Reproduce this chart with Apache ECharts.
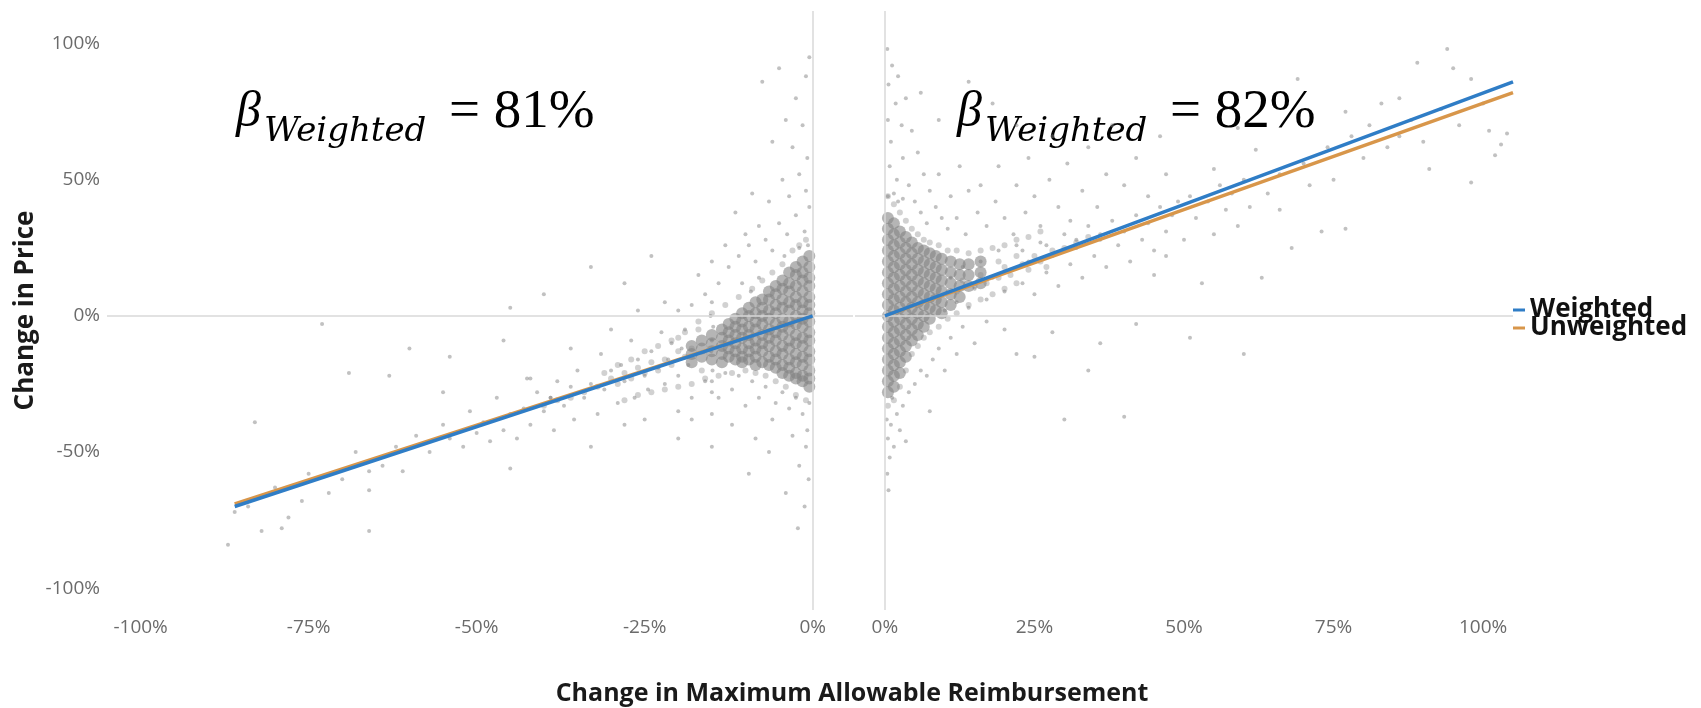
<!DOCTYPE html>
<html>
<head>
<meta charset="utf-8">
<title>Change in Price vs Change in Maximum Allowable Reimbursement</title>
<script src="https://cdn.jsdelivr.net/npm/echarts@6/dist/echarts.min.js"></script>
<style>
    html, body { margin: 0; padding: 0; background: #fff; }
    #chart { width: 1701px; height: 708px; }
</style>
</head>
<body>
<div id="chart"></div>
<script>
'use strict';
// tick labels
var yTicks = [-100, -50, 0, 50, 100];
var xTicksLeft = [-100, -75, -50, -25, 0];
var xTicksRight = [0, 25, 50, 75, 100];

// fitted lines (x in %, y in %)
var leftFitX = [-86, 0];
var leftWeighted = [-70, 0];
var leftUnweighted = [-69, 0];
var rightFitX = [0, 105];
var rightWeighted = [0, 86];
var rightUnweighted = [0, 82];

// dense cloud next to 0%, read column by column
var leftCoreX = [-0.5, -1.5, -2.5, -3.5, -4.5, -5.5, -6.5, -7.5, -8.5, -9.5, -10.5, -11.5, -12.5, -13.5, -15, -16.5, -18];
var leftCoreY = [
    [22, 18, 14, 11, 7, 4, 1, -2, -6, -9, -13, -16, -20, -23, -26],
    [20, 16, 13, 9, 5, 2, -1, -4, -8, -11, -15, -18, -22, -24],
    [18, 15, 11, 7, 4, 0, -3, -7, -10, -14, -17, -21, -23],
    [16, 12, 9, 5, 2, -2, -5, -9, -12, -16, -19, -22],
    [13, 10, 6, 3, -1, -4, -7, -11, -14, -18, -21],
    [11, 8, 4, 1, -3, -6, -9, -13, -16, -19],
    [9, 6, 2, -1, -5, -8, -11, -15, -18],
    [6, 3, 0, -3, -7, -10, -13, -17],
    [5, 1, -2, -5, -9, -12, -15, -18],
    [3, 0, -4, -7, -10, -13, -16],
    [1, -2, -5, -8, -12, -15, -17],
    [-1, -4, -7, -10, -13, -16],
    [-3, -6, -9, -12, -15],
    [-5, -8, -11, -14, -17],
    [-7, -10, -13, -16],
    [-9, -12, -15],
    [-11, -14, -17]
];
var rightCoreX = [0.5, 1.5, 2.5, 3.5, 4.5, 5.5, 6.5, 7.5, 8.5, 9.5, 11, 12.5, 14, 16];
var rightCoreY = [
    [36, 32, 28, 24, 20, 16, 12, 8, 4, 0, -4, -8, -12, -16, -20, -24, -28],
    [34, 30, 26, 22, 18, 14, 10, 6, 2, -2, -6, -10, -14, -18, -22, -26],
    [31, 27, 23, 19, 15, 11, 7, 3, -1, -5, -9, -13, -17, -21],
    [29, 25, 21, 17, 13, 9, 5, 1, -3, -7, -11, -15],
    [27, 23, 19, 15, 11, 7, 3, -1, -5, -9],
    [25, 21, 17, 13, 9, 5, 1, -3, -7],
    [24, 20, 16, 12, 8, 4, 0, -4],
    [23, 19, 15, 11, 7, 3, -1],
    [22, 18, 14, 10, 6, 2],
    [21, 17, 13, 9, 5, 1],
    [20, 16, 12, 8, 4],
    [19, 15, 11, 7],
    [19, 15, 11],
    [20, 16, 12]
];

// medium-density halo around the cores and along the fit
var leftHalo = [
    [-1, 28], [-2, 26], [-3, 24], [-4.5, 19], [-6, 16], [-7.5, 13], [-9, 10], [-11, 7], [-13, 4], [-15, 1],
    [-17, -2], [-19, -6], [-21, -9], [-23, -11], [-25, -13], [-27, -16], [-29, -18], [-31, -21],
    [-1, -31], [-2.5, -29], [-4, -26], [-5.5, -24], [-7, -22], [-8.5, -21], [-10, -20], [-12, -21], [-14, -22],
    [-16, -23], [-18, -25], [-20, -26], [-22, -27], [-24, -28], [-26, -29], [-28, -31],
    [-19, -15], [-20, -13], [-21, -18], [-22, -16], [-23, -20], [-24, -17], [-25, -21], [-26, -19], [-27, -23],
    [-28, -21], [-29, -25], [-30, -23], [-32, -26], [-34, -28], [-36, -30], [-38, -31], [-40, -33], [-20, -8],
    [-17, -5], [-18, -12], [-16.5, -20]
];
var rightHalo = [
    [0.5, 44], [1.5, 41], [2.5, 38], [3.5, 35], [4.5, 32], [5.5, 30], [6.5, 28], [7.5, 27], [9, 26], [10.5, 24],
    [12, 24], [14, 23], [16, 24], [18, 25], [20, 26], [22, 28], [24, 29], [26, 31],
    [0.5, -33], [1.5, -31], [2.5, -26], [3.5, -20], [4.5, -14], [5.5, -11], [6.5, -8], [7.5, -6], [9, -4],
    [10.5, -1], [12, 1], [14, 4], [16, 6], [18, 8], [20, 10], [22, 12],
    [12, 9], [13, 13], [15, 11], [16, 15], [17, 12], [19, 14], [20, 18], [21, 15], [23, 19], [24, 17], [25, 22],
    [26, 20], [28, 24], [30, 25], [32, 27], [34, 29], [19, 20], [22, 22], [27, 18]
];

// scattered observations
var leftPoints = [
    [-0.5, 95], [-1, 88], [-2.5, 80], [-4, 72], [-1.5, 70], [-6, 64], [-3, 62], [-0.8, 58], [-7.5, 86], [-5, 91],
    [-2, 52], [-4.5, 50], [-1, 46], [-3.5, 44], [-6.5, 42], [-0.5, 40], [-2.5, 37], [-5, 34], [-8, 33], [-1.2, 31],
    [-3.8, 30], [-7, 28], [-9.5, 26], [-11, 22], [-6, 24], [-10, 30], [-12.5, 18], [-8.5, 20], [-14, 12], [-13, 26],
    [-16, 8], [-18, 4], [-17, 15], [-20, 2], [-11.5, 38], [-9, 45], [-15, 20], [-0.7, 26], [-2, 25], [-4.2, 22],
    [-10.5, 12], [-8, 14], [-9.2, 9],
    [-0.5, -32], [-1.5, -36], [-0.8, -42], [-2.5, -30], [-3.5, -34], [-1, -48], [-2, -55], [-0.6, -60], [-4.5, -28],
    [-5.5, -32], [-6, -38], [-7, -26], [-8, -30], [-9, -24], [-10, -33], [-11, -22], [-12, -27], [-13, -21], [-14, -30],
    [-15, -36], [-16, -24], [-3, -44], [-6.5, -50], [-9.5, -58], [-12, -40], [-4, -65], [-1.2, -70], [-8.5, -45],
    [-15, -48], [-18, -38], [-20, -45], [-2.2, -78],
    [-15, 5], [-15.2, 0], [-14.8, -4], [-15, -9], [-15.1, -13], [-14.9, -20], [-15, -24], [-15, -28],
    [-19, -5], [-19.5, -12], [-18.5, -18], [-20, -22], [-21, -10], [-21.5, -16], [-22, -25], [-22.5, -6], [-23, -19],
    [-24, -13], [-24.5, -27], [-25, -22], [-26, -16], [-26.5, -30], [-27, -9], [-28, -24], [-28.5, -18], [-29, -32],
    [-30, -20], [-31, -27], [-31.5, -14], [-32, -36], [-33, -25], [-34, -30], [-35, -20], [-35.5, -38], [-36, -26],
    [-37, -33], [-38, -24], [-38.5, -42], [-39, -30], [-40, -35], [-41, -28], [-42, -40], [-42.5, -23], [-43, -34],
    [-44, -45], [-45, -36], [-46, -42], [-47, -30], [-48, -46], [-49, -39], [-50, -43], [-51, -35], [-52, -48],
    [-54, -45], [-54, -15], [-55, -40], [-46, -9], [-57, -50], [-59, -44], [-61, -57], [-62, -48], [-63, -22],
    [-64, -55], [-66, -57], [-66, -64], [-68, -50], [-69, -21], [-70, -60], [-72, -65], [-73, -3], [-75, -58],
    [-76, -68], [-78, -74], [-79, -78], [-80, -63], [-82, -79], [-83, -39], [-84, -70], [-86, -72], [-87, -84],
    [-66, -79], [-45, -56], [-39, -30], [-42, -23], [-33, -48], [-28, -40], [-36, -12], [-25, -38], [-30, -5],
    [-22, 5], [-26, 2], [-18, -30], [-20, -35], [-33, 18], [-40, 8], [-28, 12], [-45, 3], [-24, 22], [-60, -12], [-55, -28]
];
var rightPoints = [
    [0.4, 98], [1.2, 92], [0.6, 85], [2.2, 88], [1.8, 78], [3.5, 80], [0.5, 72], [2.8, 70], [4.5, 68], [1, 64],
    [5.5, 60], [3, 58], [0.8, 55], [2, 50], [6.5, 52], [4, 48], [1.5, 45], [7.5, 46], [5, 42], [3, 43], [8.5, 40],
    [0.5, 44], [6, 38], [9.5, 36], [2.2, 42], [7, 34], [10.5, 32], [12, 36], [11, 44], [13.5, 30], [9, 52], [14, 46],
    [15.5, 38], [12.5, 55], [17, 33], [16, 48], [18.5, 42], [20, 36], [19, 55], [21.5, 30], [22, 48], [23.5, 38],
    [25, 44], [24, 58], [26, 33], [27.5, 50], [29, 40], [30.5, 56], [31, 35], [33, 46], [34, 62], [35.5, 40], [37, 52],
    [28, 66], [22, 70], [18, 78], [14, 86], [9, 72], [6, 82], [40, 48], [42, 58], [44, 44], [46, 66], [38, 70],
    [47, 52], [49, 42], [36, 30], [32, 28], [27, 26], [23, 24],
    [10, 2], [11, 14], [12, 5], [13, 18], [14, 3], [15, 10], [16, 20], [17, 6], [18, 14], [19, 24], [20, 9], [21, 17],
    [22, 26], [23, 12], [24, 20], [25, 8], [26, 27], [27, 16], [28, 22], [29, 11], [30, 30], [31, 19], [32, 25],
    [33, 14], [34, 33], [35, 22], [36, 28], [37, 18], [38, 35], [39, 26], [40, 31], [41, 20], [42, 37], [43, 28],
    [44, 34], [45, 24], [46, 40], [47, 31], [48, 37], [50, 28], [51, 44], [52, 36], [54, 42], [55, 30], [56, 48],
    [57, 39], [58, 45], [59, 33], [60, 50], [61, 40], [62, 61], [63, 14], [64, 45], [66, 52], [66, 39], [68, 25],
    [69, 87], [70, 56], [71, 48], [73, 31], [74, 62], [75, 50], [77, 32], [77, 75], [78, 66], [80, 58], [81, 70],
    [83, 78], [84, 62], [86, 80], [86, 66], [88, 72], [89, 93], [90, 64], [91, 54], [93, 76], [94, 98], [95, 91],
    [96, 70], [98, 87], [98, 49], [100, 78], [101, 68], [102, 59], [103, 63], [104, 67], [59, 69], [55, 54],
    [47, 22], [51, -8], [60, -14], [53, 12], [45, 15],
    [0.3, -38], [0.5, -45], [0.8, -52], [1, -40], [0.4, -58], [2, -36], [1.5, -48], [3, -33], [4, -28], [5, -25],
    [0.6, -64], [2.5, -42], [6, -20], [7, -22], [8, -16], [9, -12], [10, -20], [11, -8], [12, -14], [13, -4],
    [15, -10], [17, -2], [20, -5], [22, -14], [25, -15], [28, -6], [30, -38], [34, -20], [40, -37], [36, -10],
    [42, -3], [3.5, -46], [1.2, -30], [7.5, -35]
];

function columns(xs, ys) {
    var out = [];
    xs.forEach(function (x, i) {
        ys[i].forEach(function (y) { out.push([x, y]); });
    });
    return out;
}
function pairs(xs, ys) {
    return xs.map(function (x, i) { return [x, ys[i]]; });
}
function tickFormatter(list) {
    return function (v) {
        var r = Math.round(v);
        return (Math.abs(v - r) < 1e-6 && list.indexOf(r) >= 0) ? r + '%' : '';
    };
}

var GRAY_TEXT = '#6b6b6b';
var BLUE = '#2f7dc6';
var ORANGE = '#d8964a';
var labelFont = { color: GRAY_TEXT, fontSize: 19, fontFamily: 'Open Sans' };

var zeroLines = {
    silent: true,
    symbol: 'none',
    label: { show: false },
    lineStyle: { color: '#d9d9d9', width: 1.5, type: 'solid' },
    data: [{ yAxis: 0 }, { xAxis: 0 }]
};

function xAxisFor(i, min, max, ticks) {
    return {
        type: 'value', gridIndex: i, min: min, max: max, interval: 5,
        axisLine: { show: false }, axisTick: { show: false }, splitLine: { show: false },
        axisLabel: Object.assign({ margin: 8, formatter: tickFormatter(ticks) }, labelFont)
    };
}
function yAxisFor(i, showLabels) {
    return {
        type: 'value', gridIndex: i, min: -108, max: 112, interval: 2,
        axisLine: { show: false }, axisTick: { show: false }, splitLine: { show: false },
        axisLabel: Object.assign({ show: showLabels, margin: 7, formatter: tickFormatter(yTicks) }, labelFont),
        name: showLabels ? 'Change in Price' : '',
        nameLocation: 'middle', nameRotate: 90, nameGap: 68,
        nameTextStyle: { color: '#1a1a1a', fontSize: 26, fontWeight: 'bold', fontFamily: 'Open Sans' }
    };
}
function cloud(gi, data, size, color, z, extra) {
    return Object.assign({
        type: 'scatter', xAxisIndex: gi, yAxisIndex: gi, z: z, symbolSize: size,
        itemStyle: { color: color }, data: data
    }, extra || {});
}
function fitLine(name, color, gi, data, z) {
    return {
        name: name, type: 'line', xAxisIndex: gi, yAxisIndex: gi, data: data,
        symbol: 'none', z: z, color: color,
        lineStyle: { color: color, width: 3.5 }
    };
}
function formula(x, pct) {
    return [
        { type: 'text', x: x, y: 113, style: { text: 'β', font: 'italic 50px "Liberation Serif"', fill: '#000', verticalAlign: 'middle' } },
        { type: 'text', x: x + 28, y: 132, style: { text: 'Weighted', font: 'italic 34px "DejaVu Serif"', fill: '#000', verticalAlign: 'middle' } },
        { type: 'text', x: x + 213, y: 113, style: { text: '= ' + pct + '%', font: '55px "Liberation Serif"', fill: '#000', verticalAlign: 'middle' } }
    ];
}

var chart = echarts.init(document.getElementById('chart'));
chart.setOption({
    animation: false,
    backgroundColor: '#fff',
    grid: [
        { left: 107, top: 11, width: 746, height: 599 },
        { left: 855, top: 11, width: 658, height: 599 }
    ],
    xAxis: [xAxisFor(0, -105, 6, xTicksLeft), xAxisFor(1, -5, 105, xTicksRight)],
    yAxis: [yAxisFor(0, true), yAxisFor(1, false)],
    legend: {
        data: ['Weighted', 'Unweighted'],
        orient: 'vertical', left: 1513, top: 297, padding: 0, itemGap: -8,
        icon: 'rect', itemWidth: 12, itemHeight: 3,
        textStyle: { color: '#111', fontSize: 26, fontWeight: 'bold', fontFamily: 'Open Sans' }
    },
    graphic: formula(236, 81).concat(formula(957, 82)).concat([
        {
            type: 'text', x: 852, y: 694,
            style: {
                text: 'Change in Maximum Allowable Reimbursement', fill: '#1a1a1a',
                font: 'bold 25px "Open Sans"', align: 'center', verticalAlign: 'middle'
            }
        }
    ]),
    series: [
        cloud(0, leftHalo, 6, 'rgba(128,128,128,0.45)', 1, { markLine: zeroLines }),
        cloud(0, columns(leftCoreX, leftCoreY), 12, 'rgba(132,132,132,0.75)', 1),
        cloud(0, leftPoints, 4, 'rgba(125,125,125,0.6)', 2),
        cloud(1, rightHalo, 6, 'rgba(128,128,128,0.45)', 1, { markLine: zeroLines }),
        cloud(1, columns(rightCoreX, rightCoreY), 12, 'rgba(132,132,132,0.75)', 1),
        cloud(1, rightPoints, 4, 'rgba(125,125,125,0.6)', 2),
        fitLine('Unweighted', ORANGE, 0, pairs(leftFitX, leftUnweighted), 4),
        fitLine('Weighted', BLUE, 0, pairs(leftFitX, leftWeighted), 5),
        fitLine('Unweighted', ORANGE, 1, pairs(rightFitX, rightUnweighted), 4),
        fitLine('Weighted', BLUE, 1, pairs(rightFitX, rightWeighted), 5)
    ]
});
</script>
</body>
</html>
